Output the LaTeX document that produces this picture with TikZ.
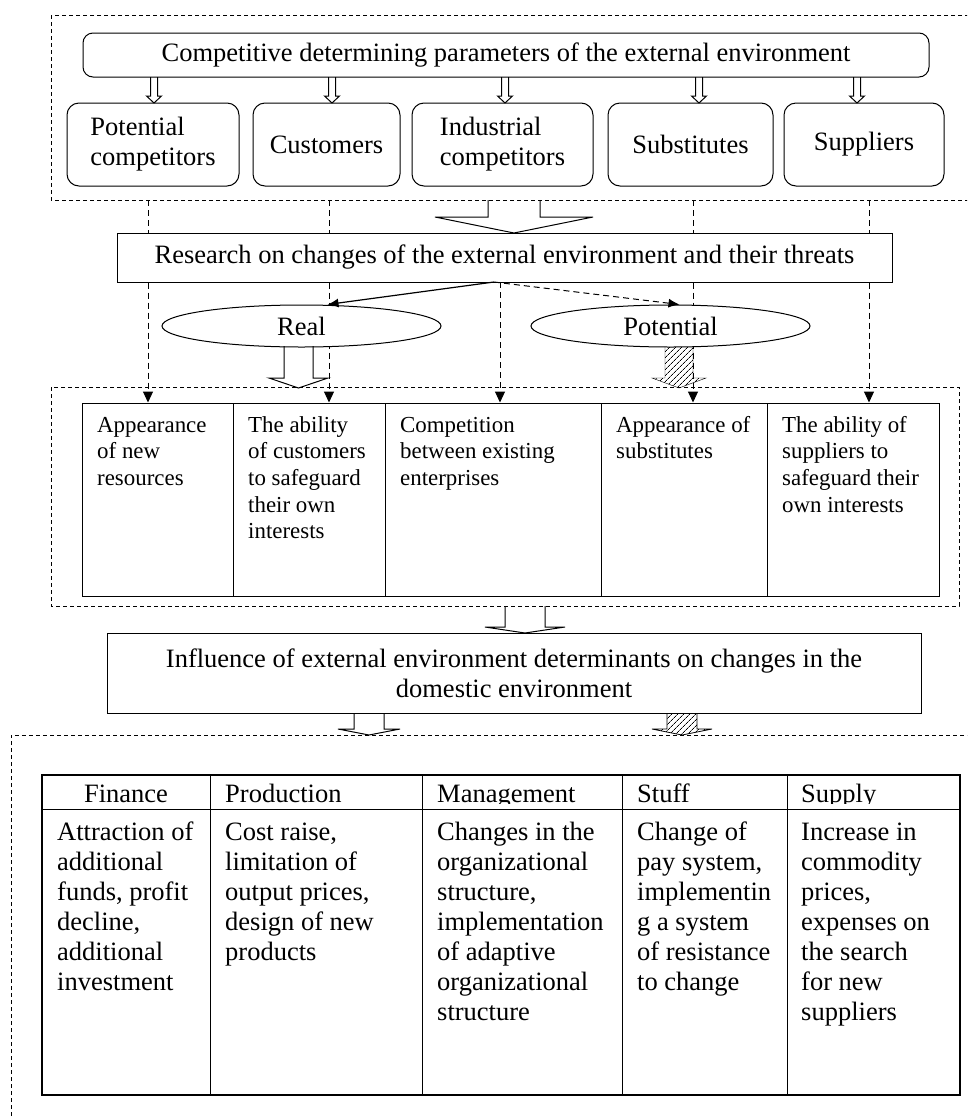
\documentclass[tikz,border=0pt]{standalone}
\usepackage{fontspec}
\setmainfont{Liberation Serif}
\usetikzlibrary{arrows.meta,shapes.geometric,patterns.meta}

\newcommand{\bigfont}{\fontsize{26.5}{30}\selectfont}
\newcommand{\midfont}{\fontsize{22.9}{26.7}\selectfont}

% wide arrow, open at the top: style, x, y top, y tip, half shaft, half head, head length
\newcommand{\fatarrow}[7]{%
  \draw[#1] (#2-#5,#3) -- (#2-#5,#4-#7) -- (#2-#6,#4-#7) -- (#2,#4)
    -- (#2+#6,#4-#7) -- (#2+#5,#4-#7) -- (#2+#5,#3);}

\tikzset{
  pbox/.style={draw, rounded corners=12pt, line width=1pt, minimum height=83pt, inner sep=0pt, align=left, font=\bigfont},
  cellbox/.style={draw, line width=1pt, inner sep=0pt, minimum height=193pt},
  oval/.style={draw, ellipse, fill=white, line width=1pt, inner sep=0pt, minimum width=279pt, minimum height=42pt, font=\bigfont},
  frame/.style={dash pattern=on 4pt off 3pt, line width=0.9pt},
  dline/.style={dash pattern=on 6pt off 4pt, line width=1pt},
  tip/.style={-{Triangle[width=10pt,length=11pt]}},
  hollow/.style={line width=1pt},
  hatch/.style={pattern={Lines[angle=45,distance=4pt,line width=0.7pt]}},
  celltext/.style={anchor=base west, inner sep=0pt, align=left, font=\midfont},
  tabtext/.style={anchor=base west, inner sep=0pt, align=left, font=\bigfont},
}

\begin{document}
\begin{tikzpicture}[x=1pt,y=-1pt]
\useasboundingbox (0,0) rectangle (967,1117);
\clip (0,0) rectangle (967,1117);

% external environment
\draw[frame] (51,15) rectangle (990,200);
\node[draw, rounded corners=10pt, line width=1pt, minimum width=846pt, minimum height=44pt, inner sep=0pt, font=\bigfont] (title) at (506,55) {Competitive determining parameters of the external environment};
\node[pbox, minimum width=172pt] (pc) at (153,144.5) {Potential\\competitors};
\node[pbox, minimum width=147pt] (cu) at (326.5,144.5) {Customers};
\node[pbox, minimum width=181pt] (ic) at (502.5,144.5) {Industrial\\competitors};
\node[pbox, minimum width=165pt] (su) at (690.5,144.5) {Substitutes};
\node[pbox, minimum width=160pt] (sp) at (864,144.5) {Suppliers};
\foreach \x in {154,332,505,699,857}
  \fatarrow{hollow}{\x}{77}{103}{3.5}{7.5}{7};

% research
\fatarrow{hollow}{514}{200}{233}{26}{79}{16};
\node[draw, line width=1pt, minimum width=775pt, minimum height=49pt, inner sep=0pt, font=\bigfont] (res) at (504.5,257.5) {Research on changes of the external environment and their threats};

% threats
\node[cellbox, minimum width=151pt] (m1) at (157.5,499.5) {};
\node[cellbox, minimum width=152pt] (m2) at (309,499.5) {};
\node[cellbox, minimum width=216pt] (m3) at (493,499.5) {};
\node[cellbox, minimum width=166pt] (m4) at (684,499.5) {};
\node[cellbox, minimum width=172pt] (m5) at (853,499.5) {};

\coordinate (d1) at (148,200);
\coordinate (d2) at (329,200);
\coordinate (d3) at (500,282);
\coordinate (d4) at (693,200);
\coordinate (d5) at (869,200);
\foreach \d in {d1,d2,d4,d5}
  \draw[dline] (\d) -- (\d |- res.north);
\draw[dline,tip] (d1 |- res.south) -- (d1 |- m1.north);
\draw[dline,tip] (d2 |- res.south) -- (d2 |- m2.north);
\draw[dline,tip] (d3) -- (d3 |- m3.north);
\draw[dline,tip] (d4 |- res.south) -- (d4 |- m4.north);
\draw[dline,tip] (d5 |- res.south) -- (d5 |- m5.north);

\node[oval] (real) at (301.5,326) {Real};
\node[oval] (pot) at (670.5,326) {Potential};
\coordinate (rs) at (494,282);
\draw[line width=1.2pt, -{Latex[width=9pt,length=11pt]}] (rs) -- ([xshift=26pt]real.north);
\draw[dline, -{Latex[width=9pt,length=11pt]}] (rs) -- ([xshift=9pt]pot.north);

\fatarrow{hollow}{298.5}{346}{388}{14.5}{29.5}{10};
\fatarrow{hatch}{679}{347}{388}{14}{27}{10};

% last baselines: first line at 432, 26.7 apart
\draw[frame] (51,387) rectangle (959,606);
\node[celltext] (t1) at (97,485.4) {Appearance\\of new\\resources};
\node[celltext] (t2) at (248,538.8) {The ability\\of customers\\to safeguard\\their own\\interests};
\node[celltext] (t3) at (400,485.4) {Competition\\between existing\\enterprises};
\node[celltext] (t4) at (616,458.7) {Appearance of\\substitutes};
\node[celltext] (t5) at (782,512.1) {The ability of\\suppliers to\\safeguard their\\own interests};

% domestic environment
\fatarrow{hollow}{525}{606}{633}{20}{40}{6};
\node[draw, line width=1pt, minimum width=814pt, minimum height=80pt, inner sep=0pt, align=center, font=\bigfont] (infl) at (514,673) {Influence of external environment determinants on changes in the\\domestic environment};
\fatarrow{hollow}{369}{713}{735}{15}{31}{6};
\fatarrow{hatch,draw,line width=0.8pt}{682}{713}{735}{15}{30}{6};

\draw[frame] (11,1130) -- (11,735) -- (990,735);

\draw[line width=1.2pt] (42,775) rectangle (960,1095);
\draw[line width=1pt] (42,809) -- (960,809);
\foreach \x in {210,422,622,787}
  \draw[line width=1pt] (\x,775) -- (\x,1095);
\begin{scope}
  \clip (42,775) rectangle (960,803);
  \node[tabtext, anchor=base] (hfin) at (126,802) {Finance};
  \node[tabtext] (hpro) at (225,802) {Production};
  \node[tabtext] (hman) at (437,802) {Management};
  \node[tabtext] (hstu) at (637,802) {Stuff};
  \node[tabtext] (hsup) at (801,802) {Supply};
\end{scope}
% last baselines: first line at 840, 30 apart
\node[tabtext] (bfin) at (57,990) {Attraction of\\additional\\funds, profit\\decline,\\additional\\investment};
\node[tabtext] (bpro) at (225,960) {Cost raise,\\limitation of\\output prices,\\design of new\\products};
\node[tabtext] (bman) at (437,1020) {Changes in the\\organizational\\structure,\\implementation\\of adaptive\\organizational\\structure};
\node[tabtext] (bstu) at (637,990) {Change of\\pay system,\\implementin\\g a system\\of resistance\\to change};
\node[tabtext] (bsup) at (801,1020) {Increase in\\commodity\\prices,\\expenses on\\the search\\for new\\suppliers};
\end{tikzpicture}
\end{document}
